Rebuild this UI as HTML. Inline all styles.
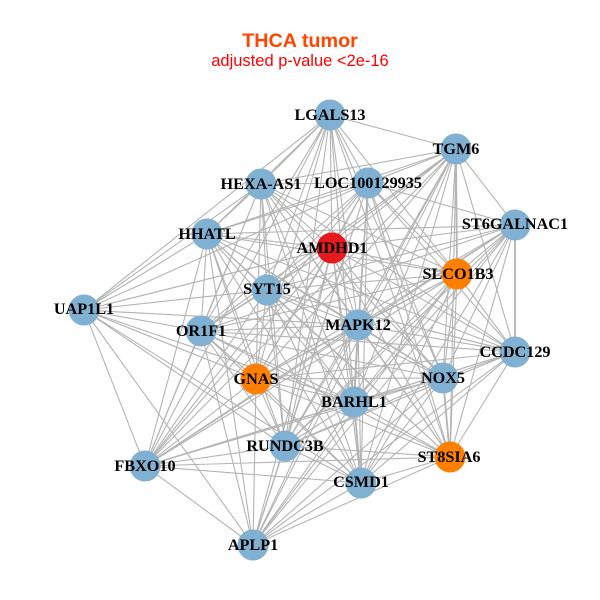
<!DOCTYPE html>
<html><head><meta charset="utf-8"><style>html,body{margin:0;padding:0;background:#fff}svg{display:block}
.n{font:bold 16.2px "Liberation Serif",serif;text-anchor:middle;fill:#000}
</style></head><body>
<svg width="600" height="600" viewBox="0 0 600 600" xmlns="http://www.w3.org/2000/svg">
<rect width="600" height="600" fill="#fff"/>
<g fill="none" stroke="#b4b4b4" stroke-width="1.1">
<path d="M330 115L456 149 330 115 368 183 330 115 261 184 330 115 207 234 330 115 332 248 330 115 457 274 330 115 267 290 330 115 84 310 330 115 201 331 330 115 358 325 330 115 443 378 330 115 256 379 330 115 354 402 330 115 285 446 330 115 450 457 330 115 145 466 330 115 361 483"/>
<path d="M456 149L368 183 456 149 261 184 456 149 515 225 456 149 207 234 456 149 332 248 456 149 457 274 456 149 267 290 456 149 201 331 456 149 358 325 456 149 515 352 456 149 443 378 456 149 256 379 456 149 354 402 456 149 285 446 456 149 450 457 456 149 145 466 456 149 361 483 456 149 253 545"/>
<path d="M368 183L261 184 368 183 515 225 368 183 207 234 368 183 332 248 368 183 457 274 368 183 267 290 368 183 84 310 368 183 201 331 368 183 358 325 368 183 515 352 368 183 443 378 368 183 256 379 368 183 354 402 368 183 285 446 368 183 450 457 368 183 145 466 368 183 361 483 368 183 253 545"/>
<path d="M261 184L207 234 261 184 332 248 261 184 457 274 261 184 267 290 261 184 84 310 261 184 201 331 261 184 358 325 261 184 515 352 261 184 443 378 261 184 256 379 261 184 354 402 261 184 285 446 261 184 450 457 261 184 145 466 261 184 361 483"/>
<path d="M515 225L207 234 515 225 332 248 515 225 457 274 515 225 267 290 515 225 201 331 515 225 358 325 515 225 515 352 515 225 443 378 515 225 256 379 515 225 354 402 515 225 285 446 515 225 450 457 515 225 145 466 515 225 361 483 515 225 253 545"/>
<path d="M207 234L332 248 207 234 457 274 207 234 267 290 207 234 84 310 207 234 201 331 207 234 358 325 207 234 515 352 207 234 443 378 207 234 256 379 207 234 354 402 207 234 285 446 207 234 450 457 207 234 145 466 207 234 361 483 207 234 253 545"/>
<path d="M332 248L457 274 332 248 267 290 332 248 84 310 332 248 201 331 332 248 358 325 332 248 515 352 332 248 443 378 332 248 256 379 332 248 354 402 332 248 285 446 332 248 450 457 332 248 145 466 332 248 361 483 332 248 253 545"/>
<path d="M457 274L267 290 457 274 201 331 457 274 358 325 457 274 515 352 457 274 443 378 457 274 256 379 457 274 354 402 457 274 285 446 457 274 450 457 457 274 145 466 457 274 361 483 457 274 253 545"/>
<path d="M267 290L84 310 267 290 201 331 267 290 358 325 267 290 515 352 267 290 443 378 267 290 256 379 267 290 354 402 267 290 285 446 267 290 450 457 267 290 145 466 267 290 361 483"/>
<path d="M84 310L201 331 84 310 358 325 84 310 256 379 84 310 354 402 84 310 285 446 84 310 145 466 84 310 361 483 84 310 253 545"/>
<path d="M201 331L358 325 201 331 515 352 201 331 443 378 201 331 256 379 201 331 354 402 201 331 285 446 201 331 450 457 201 331 145 466 201 331 361 483 201 331 253 545"/>
<path d="M358 325L515 352 358 325 443 378 358 325 256 379 358 325 354 402 358 325 285 446 358 325 450 457 358 325 145 466 358 325 361 483 358 325 253 545"/>
<path d="M515 352L443 378 515 352 256 379 515 352 354 402 515 352 285 446 515 352 450 457 515 352 145 466 515 352 361 483 515 352 253 545"/>
<path d="M443 378L256 379 443 378 354 402 443 378 285 446 443 378 450 457 443 378 145 466 443 378 361 483 443 378 253 545"/>
<path d="M256 379L354 402 256 379 285 446 256 379 450 457 256 379 145 466 256 379 361 483 256 379 253 545"/>
<path d="M354 402L285 446 354 402 450 457 354 402 145 466 354 402 361 483 354 402 253 545"/>
<path d="M285 446L450 457 285 446 145 466 285 446 361 483 285 446 253 545"/>
<path d="M450 457L145 466 450 457 361 483 450 457 253 545"/>
<path d="M145 466L361 483 145 466 253 545M361 483L253 545"/>
</g>
<g fill="none" stroke="#b4b4b4" stroke-width="1.8">
<path d="M456 149L457 274M354 402L361 483M443 378L450 457M515 225L515 352M358 325L354 402"/>
</g>
<g fill="#80b1d3">
<circle cx="330" cy="115" r="15.5"/><circle cx="456" cy="149" r="15.5"/><circle cx="368" cy="183" r="15.5"/><circle cx="261" cy="184" r="15.5"/><circle cx="515" cy="225" r="15.5"/><circle cx="207" cy="234" r="15.5"/><circle cx="267" cy="290" r="15.5"/><circle cx="84" cy="310" r="15.5"/><circle cx="201" cy="331" r="15.5"/><circle cx="358" cy="325" r="15.5"/><circle cx="515" cy="352" r="15.5"/><circle cx="443" cy="378" r="15.5"/><circle cx="354" cy="402" r="15.5"/><circle cx="285" cy="446" r="15.5"/><circle cx="145" cy="466" r="15.5"/><circle cx="361" cy="483" r="15.5"/><circle cx="253" cy="545" r="15.5"/>
</g>
<circle cx="332" cy="248" r="15.5" fill="#e41a1c"/>
<g fill="#ff7f00"><circle cx="457" cy="274" r="15.5"/><circle cx="256" cy="379" r="15.5"/><circle cx="450" cy="457" r="15.5"/></g>
<g class="n">
<text class="n" x="330" y="120">LGALS13</text>
<text class="n" x="456" y="154">TGM6</text>
<text class="n" x="368" y="188">LOC100129935</text>
<text class="n" x="261" y="189">HEXA-AS1</text>
<text class="n" x="515" y="229">ST6GALNAC1</text>
<text class="n" x="207" y="239">HHATL</text>
<text class="n" x="332" y="253">AMDHD1</text>
<text class="n" x="458" y="279">SLCO1B3</text>
<text class="n" x="267" y="294">SYT15</text>
<text class="n" x="84" y="314">UAP1L1</text>
<text class="n" x="201" y="336">OR1F1</text>
<text class="n" x="358" y="330">MAPK12</text>
<text class="n" x="515" y="357">CCDC129</text>
<text class="n" x="443" y="383">NOX5</text>
<text class="n" x="256" y="384">GNAS</text>
<text class="n" x="354" y="407">BARHL1</text>
<text class="n" x="285" y="451">RUNDC3B</text>
<text class="n" x="449" y="462">ST8SIA6</text>
<text class="n" x="145" y="471">FBXO10</text>
<text class="n" x="361" y="487">CSMD1</text>
<text class="n" x="253" y="550">APLP1</text>
</g>
<text x="300" y="47" text-anchor="middle" font-family="'Liberation Sans',sans-serif" font-weight="bold" font-size="19.8" fill="#ff4500">THCA tumor</text>
<text x="300" y="66" text-anchor="middle" font-family="'Liberation Sans',sans-serif" font-size="16.5" fill="#ff0000">adjusted p-value &lt;2e-16</text>
</svg>
</body></html>
